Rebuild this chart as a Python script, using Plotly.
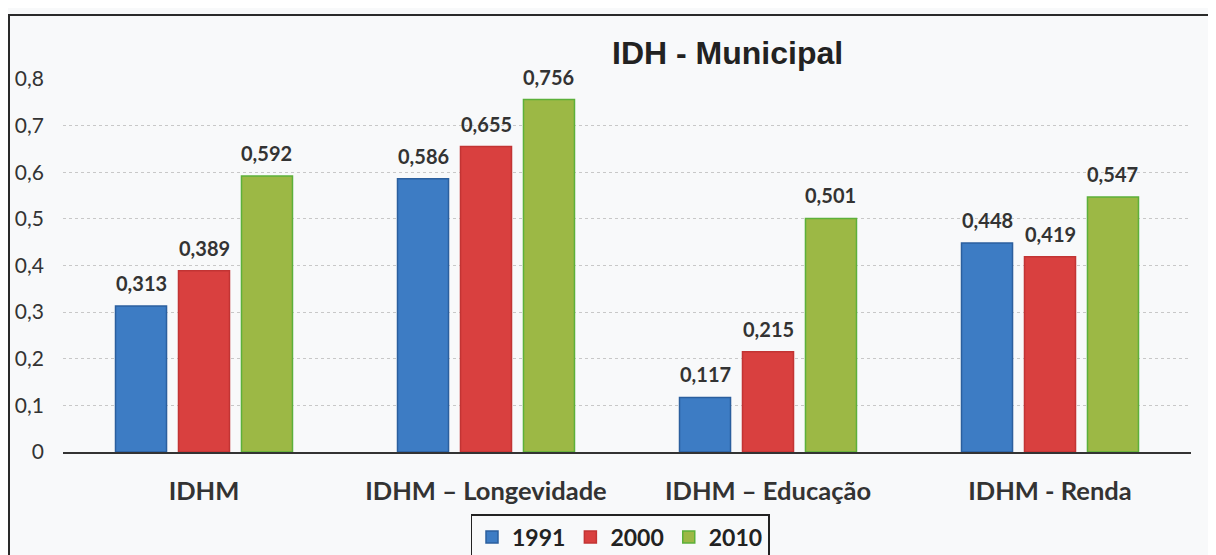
import plotly.graph_objects as go

categories = ["IDHM", "IDHM – Longevidade", "IDHM – Educação", "IDHM - Renda"]
years = ["1991", "2000", "2010"]
v1991 = [0.313, 0.586, 0.117, 0.448]
v2000 = [0.389, 0.655, 0.215, 0.419]
v2010 = [0.592, 0.756, 0.501, 0.547]
y_ticks = [0, 0.1, 0.2, 0.3, 0.4, 0.5, 0.6, 0.7, 0.8]

series = [v1991, v2000, v2010]
fills = ["#3d7cc4", "#d9403f", "#9cb845"]
lines = ["#2b5f9e", "#c23434", "#5cb03a"]

# the page places the figure 8px in from the top-left corner (body margin)
W, H = 1216, 555
ml, mt = 55, 71
plot_w, plot_h = 1128, 373
mr = W - ml - plot_w
mb = H - mt - plot_h
cat_w = plot_w / len(categories)
bargap = 0.33
bargroupgap = 0.19
slot = cat_w * (1 - bargap) / len(years)
FONT = "Lato, Open Sans, sans-serif"

fig = go.Figure()
for i, (yr, vals) in enumerate(zip(years, series)):
    fig.add_trace(go.Bar(
        name=yr, x=categories, y=vals,
        marker=dict(color=fills[i], line=dict(color=lines[i], width=1.5)),
        hoverinfo="skip",
    ))
    off = (i - 1) * slot
    for c, v in zip(categories, vals):
        fig.add_annotation(
            x=c, y=v, xref="x", yref="y", xshift=off, yshift=9,
            text=f"{v:.3f}".replace(".", ","), showarrow=False,
            yanchor="bottom", xanchor="center",
            font=dict(family=FONT, size=20, color="#333333", weight="bold"),
        )

fig.add_annotation(
    text="IDH - Municipal", xref="paper", yref="paper",
    x=(720 - ml) / plot_w, y=1 + (71 - 45) / plot_h,
    showarrow=False, xanchor="center", yanchor="middle",
    font=dict(family="Liberation Sans, Arial, sans-serif", size=32, color="#222222", weight="bold"),
)

# outer chart border
fig.add_shape(type="rect", xref="paper", yref="paper",
              x0=-(ml - 1) / plot_w, x1=1 + (mr + 10) / plot_w,
              y0=-(mb + 10) / plot_h, y1=1 + (mt - 7) / plot_h,
              line=dict(color="#2a2a2a", width=2), layer="below")

fig.update_layout(
    width=W, height=H,
    margin=dict(l=ml, r=mr, t=mt, b=mb, pad=0, autoexpand=False),
    paper_bgcolor="#f8f9fa", plot_bgcolor="rgba(0,0,0,0)",
    separators=",.",
    barmode="group", bargap=bargap, bargroupgap=bargroupgap,
    showlegend=True,
    legend=dict(orientation="h", xref="container", yref="container",
                x=612 / W, xanchor="center",
                y=(H - 506) / H, yanchor="top",
                bordercolor="#222222", borderwidth=1.5, bgcolor="rgba(255,255,255,0)",
                font=dict(family=FONT, size=23, color="#222222", weight="bold"),
                itemwidth=30, tracegroupgap=0),
    font=dict(family=FONT),
)
fig.update_xaxes(
    showgrid=False, showline=True, linecolor="#333333", linewidth=1.5,
    ticks="", ticklabelstandoff=16, automargin=False,
    tickfont=dict(family=FONT, size=25.5, color="#333333", weight="bold"),
)
fig.update_yaxes(
    range=[0, 0.8], tickvals=y_ticks, showgrid=True, gridcolor="#c8c8c8",
    griddash="dot", gridwidth=1, zeroline=False, showline=False,
    ticklabelstandoff=18, automargin=False,
    tickfont=dict(family=FONT, size=21, color="#333333"),
)
fig.write_html("out.html")
